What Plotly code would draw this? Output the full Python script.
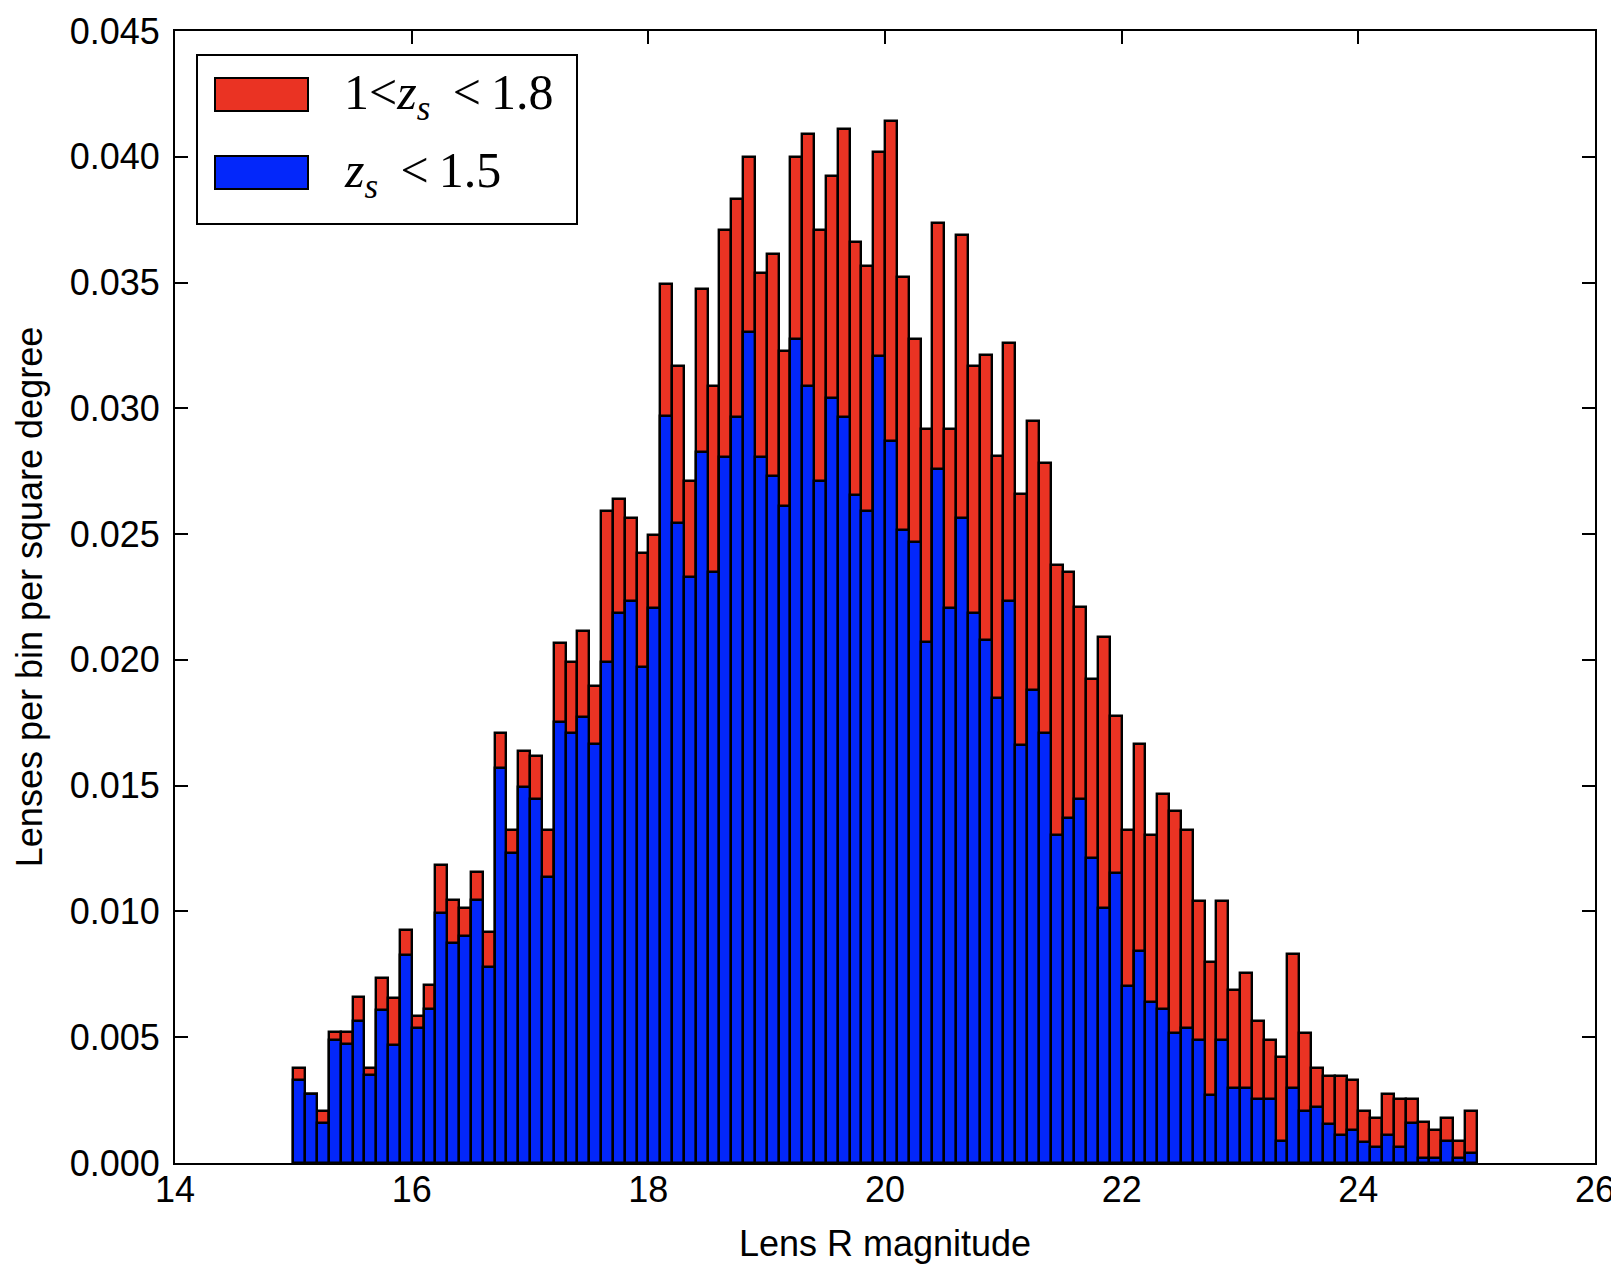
import plotly.graph_objects as go

# Bin left edges (Lens R magnitude), bin width 0.1
bin_width = 0.1
bin_left = [round(15.0 + bin_width * i, 1) for i in range(100)]

# 1 < z_s < 1.8 (red)
red_vals = [
    0.00379, 0.00276, 0.00206, 0.00521, 0.00521, 0.00660, 0.00378, 0.00735, 0.00657, 0.00925,
    0.00583, 0.00706, 0.01186, 0.01044, 0.01014, 0.01157, 0.00919, 0.01710, 0.01324, 0.01636,
    0.01616, 0.01324, 0.02066, 0.01991, 0.02113, 0.01897, 0.02592, 0.02640, 0.02563, 0.02424,
    0.02497, 0.03495, 0.03167, 0.02713, 0.03474, 0.03089, 0.03708, 0.03832, 0.03999, 0.03538,
    0.03614, 0.03229, 0.03999, 0.04092, 0.03708, 0.03924, 0.04110, 0.03661, 0.03567, 0.04019,
    0.04141, 0.03521, 0.03276, 0.02918, 0.03736, 0.02918, 0.03690, 0.03167, 0.03213, 0.02809,
    0.03259, 0.02659, 0.02950, 0.02782, 0.02378, 0.02351, 0.02209, 0.01924, 0.02090, 0.01775,
    0.01324, 0.01665, 0.01304, 0.01466, 0.01401, 0.01324, 0.01042, 0.00800, 0.01042, 0.00688,
    0.00754, 0.00564, 0.00489, 0.00423, 0.00830, 0.00518, 0.00376, 0.00347, 0.00347, 0.00330,
    0.00206, 0.00177, 0.00273, 0.00253, 0.00253, 0.00162, 0.00133, 0.00178, 0.00086, 0.00206,
]

# z_s < 1.5 (blue)
blue_vals = [
    0.00328, 0.00276, 0.00160, 0.00490, 0.00472, 0.00564, 0.00348, 0.00610, 0.00470, 0.00828,
    0.00537, 0.00611, 0.00995, 0.00876, 0.00902, 0.01044, 0.00780, 0.01570, 0.01231, 0.01494,
    0.01447, 0.01138, 0.01755, 0.01708, 0.01772, 0.01665, 0.01991, 0.02186, 0.02236, 0.01971,
    0.02205, 0.02968, 0.02543, 0.02328, 0.02825, 0.02348, 0.02806, 0.02965, 0.03302, 0.02806,
    0.02732, 0.02610, 0.03276, 0.03089, 0.02713, 0.03041, 0.02965, 0.02656, 0.02590, 0.03209,
    0.02872, 0.02515, 0.02468, 0.02070, 0.02759, 0.02205, 0.02563, 0.02186, 0.02079, 0.01850,
    0.02236, 0.01662, 0.01881, 0.01708, 0.01304, 0.01370, 0.01446, 0.01211, 0.01015, 0.01154,
    0.00704, 0.00844, 0.00639, 0.00611, 0.00518, 0.00535, 0.00489, 0.00270, 0.00489, 0.00299,
    0.00299, 0.00253, 0.00253, 0.00087, 0.00299, 0.00206, 0.00224, 0.00157, 0.00111, 0.00131,
    0.00085, 0.00065, 0.00111, 0.00065, 0.00160, 0.00020, 0.00020, 0.00086, 0.00020, 0.00039,
]

x_ticks = [14, 16, 18, 20, 22, 24, 26]
y_ticks = [0.000, 0.005, 0.010, 0.015, 0.020, 0.025, 0.030, 0.035, 0.040, 0.045]

RED = "#EA3323"
BLUE = "#0327FA"
label_red = "1&lt;<i>z</i><sub><i>s</i></sub>&#8201; &lt;&#8201;1.8"
label_blue = "<i>z</i><sub><i>s</i></sub>&#8201; &lt;&#8201;1.5"

fig = go.Figure()
fig.add_trace(go.Bar(x=bin_left, y=red_vals, width=bin_width, offset=0,
                     marker=dict(color=RED, line=dict(color="black", width=2.4)),
                     name="1<z_s<1.8", showlegend=False))
fig.add_trace(go.Bar(x=bin_left, y=blue_vals, width=bin_width, offset=0,
                     marker=dict(color=BLUE, line=dict(color="black", width=2.4)),
                     name="z_s<1.5", showlegend=False))

# page body has an 8px margin: the figure is drawn 8px in from the top-left
OFF = 8
W, H = 1619 - OFF, 1266 - OFF
L, R, T, B = 175 - OFF, 1595 - OFF, 31 - OFF, 1163 - OFF

def px(xp):
    return (xp - OFF - L) / (R - L)

def py(yp):
    return (B - (yp - OFF)) / (B - T)

shapes = [
    dict(type="rect", xref="paper", yref="paper", x0=px(197), x1=px(577), y0=py(224), y1=py(55),
         line=dict(color="black", width=2), fillcolor="white", layer="above"),
    dict(type="rect", xref="paper", yref="paper", x0=px(215), x1=px(308), y0=py(111), y1=py(78),
         line=dict(color="black", width=2), fillcolor=RED, layer="above"),
    dict(type="rect", xref="paper", yref="paper", x0=px(215), x1=px(308), y0=py(189), y1=py(156),
         line=dict(color="black", width=2), fillcolor=BLUE, layer="above"),
]
annotations = [
    dict(xref="paper", yref="paper", x=px(342), y=py(96), text=label_red, showarrow=False,
         xanchor="left", yanchor="middle",
         font=dict(family="Liberation Serif, DejaVu Serif, serif", size=50, color="black")),
    dict(xref="paper", yref="paper", x=px(342), y=py(174), text=label_blue, showarrow=False,
         xanchor="left", yanchor="middle",
         font=dict(family="Liberation Serif, DejaVu Serif, serif", size=50, color="black")),
]

axis_common = dict(showline=True, linecolor="black", linewidth=2, mirror="ticks",
                   ticks="inside", ticklen=13, tickwidth=1.5, tickcolor="black",
                   showgrid=False, zeroline=False,
                   tickfont=dict(family="Liberation Sans, Arial, sans-serif", size=36, color="black"))

fig.update_layout(
    width=W, height=H,
    margin=dict(l=L, r=W - R, t=T, b=H - B, autoexpand=False),
    paper_bgcolor="white", plot_bgcolor="white",
    barmode="overlay", bargap=0,
    shapes=shapes, annotations=annotations,
    xaxis=dict(range=[14, 26], tickvals=x_ticks, ticktext=[str(v) for v in x_ticks],
               title=dict(text="Lens R magnitude", standoff=22,
                          font=dict(family="Liberation Sans, Arial, sans-serif", size=36, color="black")),
               ticklabelstandoff=-6, **axis_common),
    yaxis=dict(range=[0, 0.045], tickvals=y_ticks, ticktext=[f"{v:.3f}" for v in y_ticks],
               title=dict(text="Lenses per bin per square degree", standoff=16,
                          font=dict(family="Liberation Sans, Arial, sans-serif", size=36, color="black")),
               ticklabelstandoff=6, **axis_common),
)

fig.write_html("out.html")
